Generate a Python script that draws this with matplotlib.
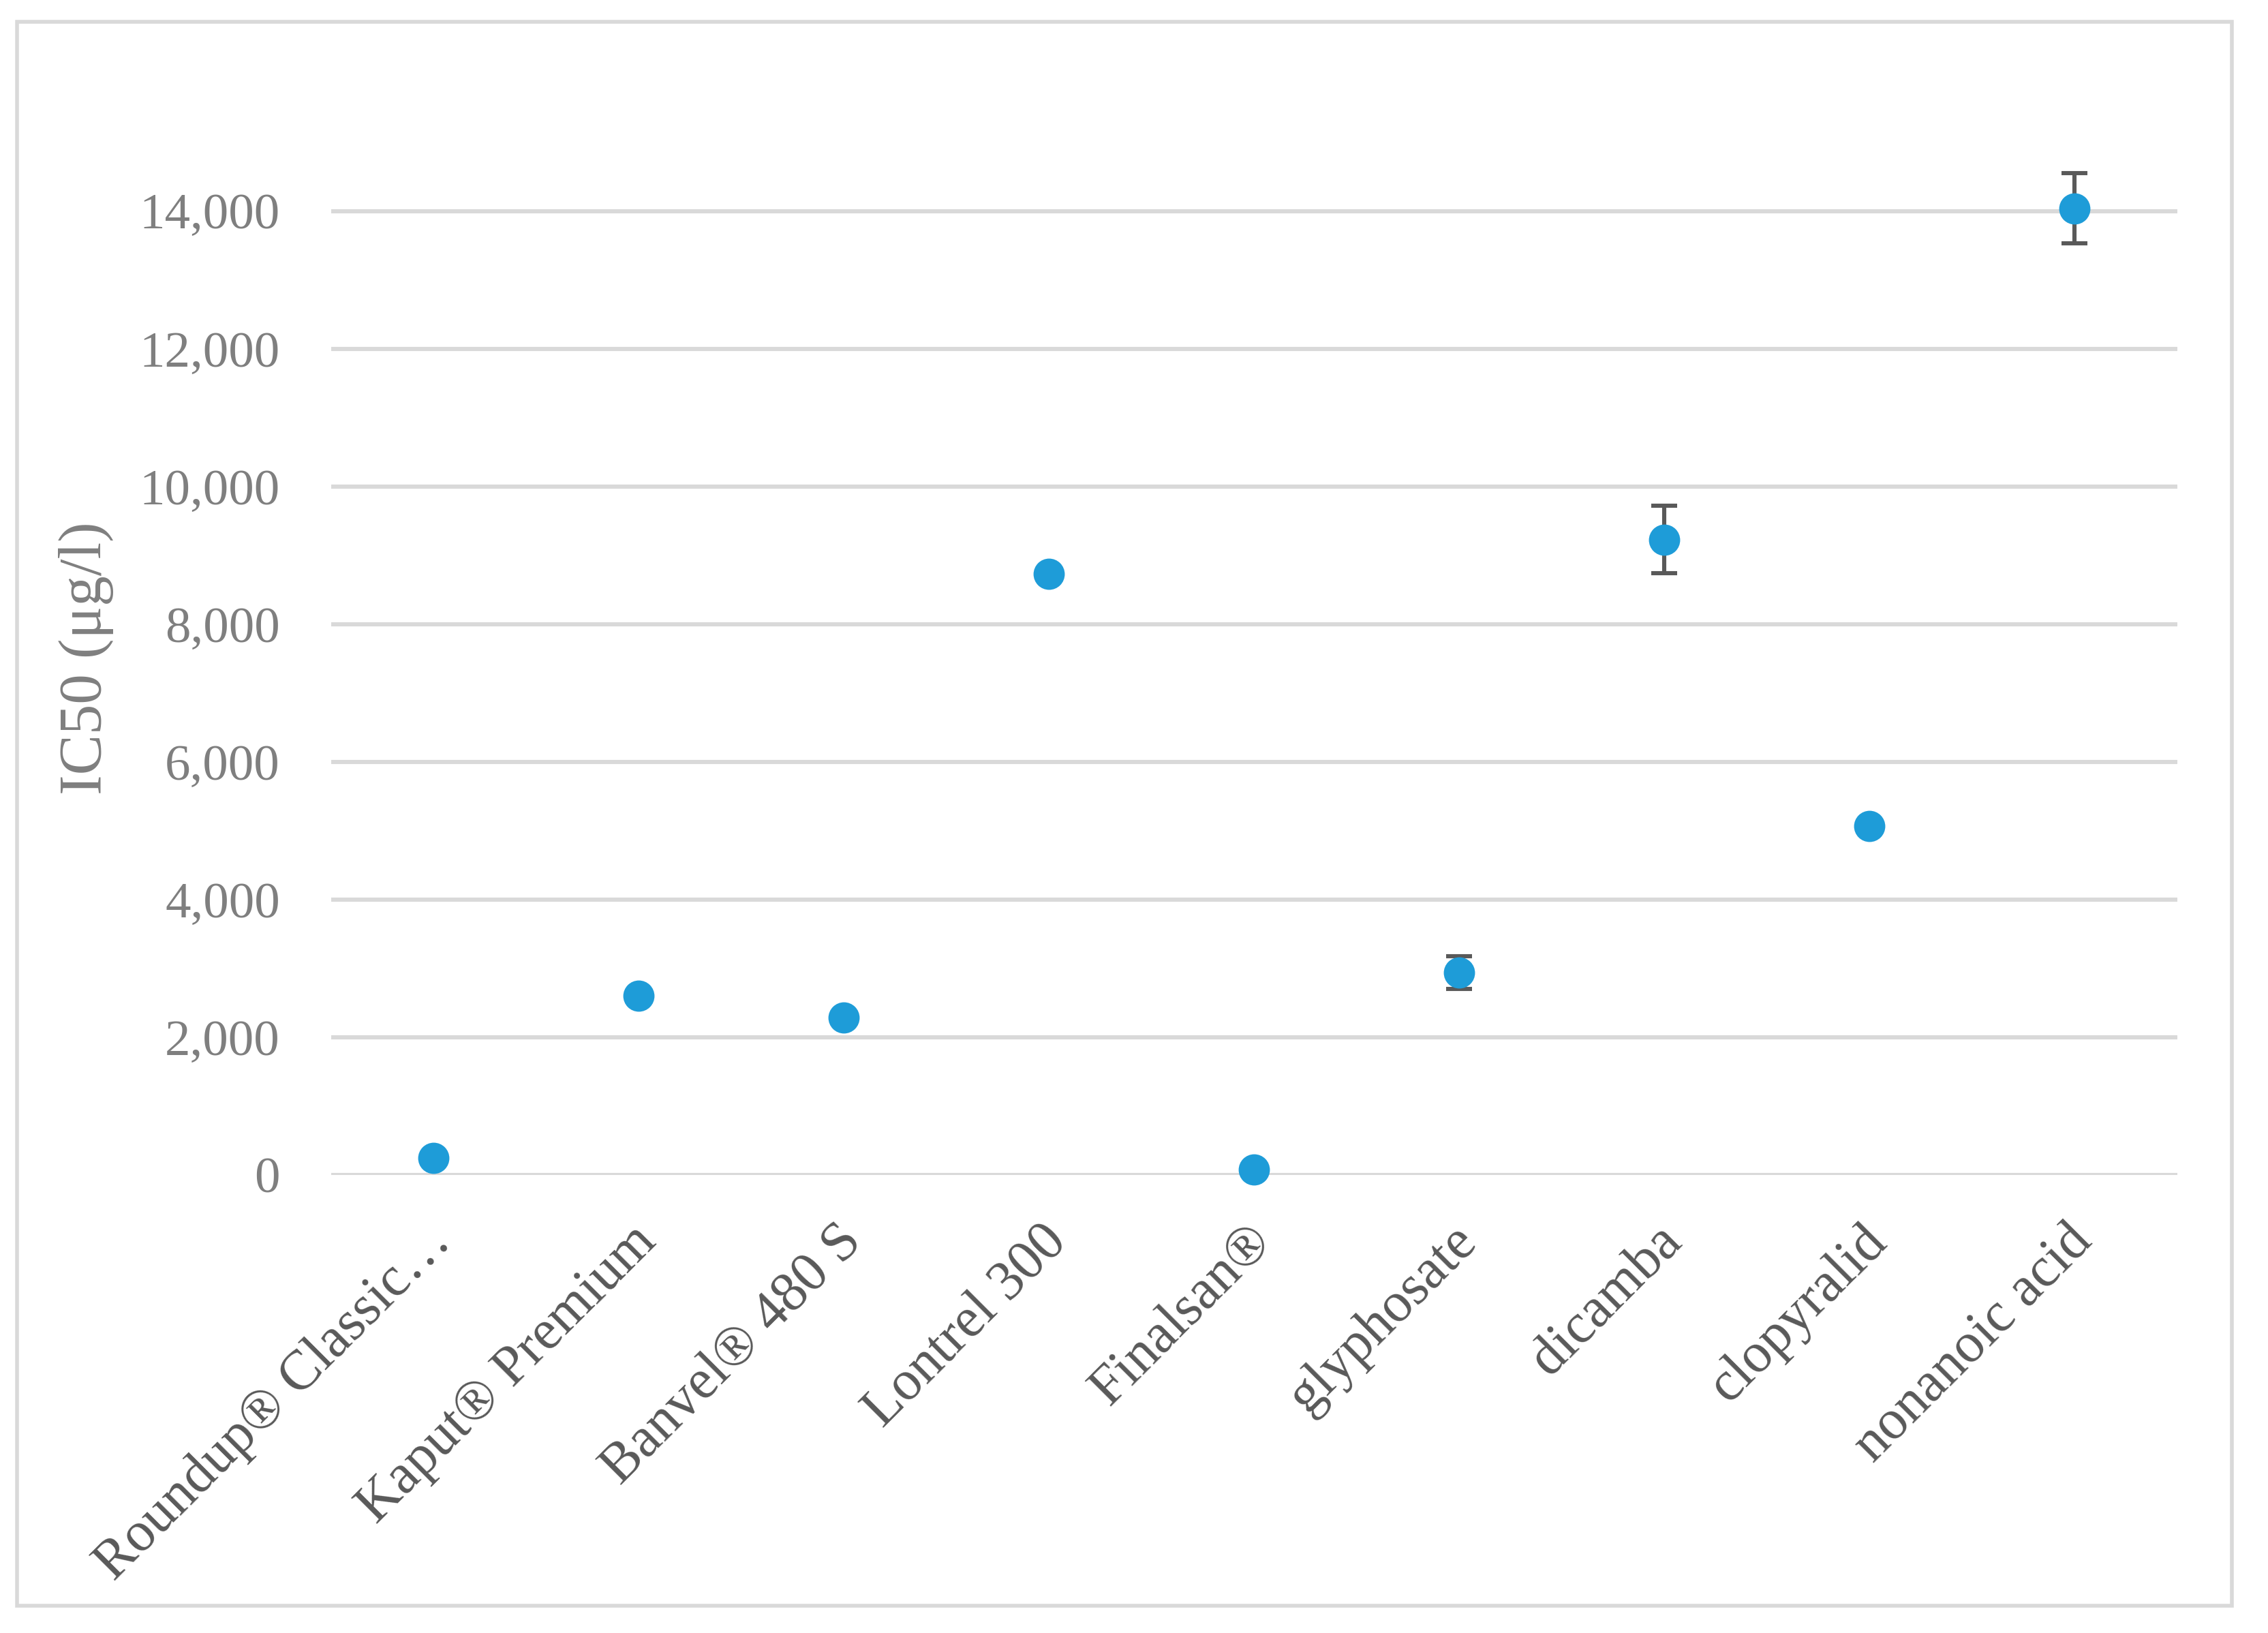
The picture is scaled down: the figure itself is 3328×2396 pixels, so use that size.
import numpy as np
import matplotlib.pyplot as plt
from matplotlib.patches import Rectangle
from matplotlib.ticker import FuncFormatter
from matplotlib.transforms import ScaledTranslation

# Data
substances = ['Roundup® Classic…', 'Kaput® Premium', 'Banvel® 480 S', 'Lontrel 300',
              'Finalsan®', 'glyphosate', 'dicamba', 'clopyralid', 'nonanoic acid']
ic50 = [250, 2600, 2290, 8730, 80, 2940, 9230, 5070, 14040]
ic50_err = [0, 0, 0, 0, 0, 240, 490, 0, 510]

plt.rcParams['font.family'] = ['Liberation Serif', 'DejaVu Serif']

fig = plt.figure(figsize=(16.64, 11.98), dpi=200)
ax = fig.add_axes([0.146, 0.2805, 0.814, 0.6535])

x = np.arange(len(substances))
has_err = np.array(ic50_err) > 0
ax.errorbar(x[has_err], np.array(ic50)[has_err], yerr=np.array(ic50_err)[has_err],
            fmt='none', ecolor='#595959', elinewidth=2.2, capsize=7, capthick=2.2, zorder=3)
ax.plot(x, ic50, 'o', color='#1E9CD8', markersize=16.5, markeredgewidth=0, zorder=4, clip_on=False)

ax.set_xlim(-0.5, len(substances) - 0.5)
ax.set_ylim(0, 15500)
ax.set_yticks(np.arange(0, 14001, 2000))
ax.yaxis.set_major_formatter(FuncFormatter(lambda v, p: f'{int(v):,}'))
ax.grid(axis='y', color='#d9d9d9', linewidth=2.2)
ax.set_axisbelow(True)
for s in ax.spines.values():
    s.set_visible(False)
ax.tick_params(axis='both', length=0)
ax.tick_params(axis='y', labelsize=27, labelcolor='#7f7f7f', pad=27)

ax.set_xticks(x)
ax.set_xticklabels(substances, rotation=45, ha='right', va='center',
                   rotation_mode='anchor', fontsize=29.5, color='#595959')
ax.tick_params(axis='x', pad=14)
shift = ScaledTranslation(5 / 72, -17 / 72, fig.dpi_scale_trans)
for lbl in ax.get_xticklabels():
    lbl.set_transform(lbl.get_transform() + shift)

ax.set_ylabel('IC50 (μg/l)', fontsize=32, color='#7f7f7f')
ax.yaxis.set_label_coords(-0.1176, 0.484)

# light outer frame
fig.patches.append(Rectangle((25 / 3328, 1 - 2356 / 2396), 3250 / 3328, 2324 / 2396,
                             transform=fig.transFigure, fill=False,
                             edgecolor='#d9d9d9', linewidth=2))

plt.savefig('out.png', dpi=200, facecolor='white')
plt.close()
